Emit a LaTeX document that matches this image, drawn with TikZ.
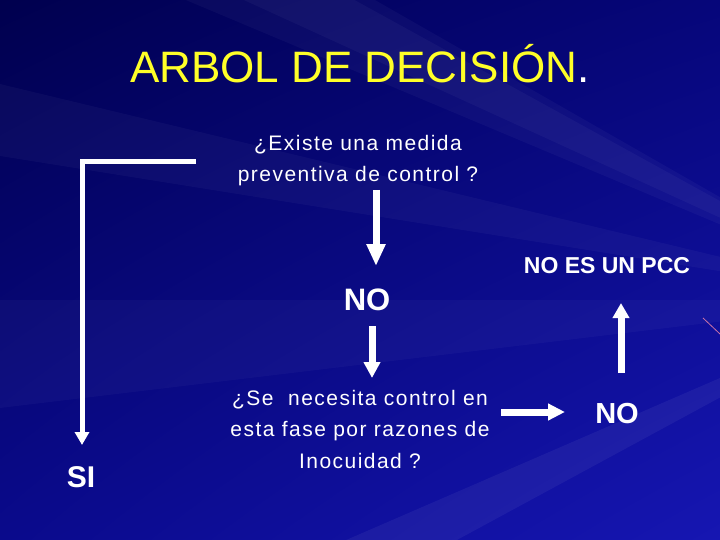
\documentclass[tikz,border=0pt]{standalone}
\usepackage{fontspec}
\setmainfont{Liberation Sans}
\usetikzlibrary{arrows.meta, positioning, shadings}

\definecolor{slideUL}{RGB}{0,0,78}
\definecolor{slideUR}{RGB}{6,6,122}
\definecolor{slideLL}{RGB}{10,10,140}
\definecolor{slideLR}{RGB}{22,22,178}
\definecolor{titleyellow}{RGB}{255,255,40}

\begin{document}
\begin{tikzpicture}[x=1pt, y=-1pt,
    question/.style={text=white, align=center, inner sep=0pt,
      font=\fontsize{21}{31.5}\selectfont\addfontfeatures{LetterSpace=7}},
    answer/.style={text=white, inner sep=0pt, anchor=base},
    flowarrow/.style={draw=white, line width=7pt,
      -{Triangle[width=16pt, length=17pt]}},
    ray/.style={fill=white, opacity=0.035},
  ]
  \useasboundingbox (0,0) rectangle (720,540);
  % slide background: dark-to-bright blue, faint rays from the right
  \begin{scope}
    \clip (0,0) rectangle (720,540);
    \shade[upper left=slideUL, upper right=slideUR, lower left=slideLL,
      lower right=slideLR] (0,0) rectangle (720,540);
    \fill[ray] (900,300) -- (-100,-250) -- (-100,-120) -- cycle;
    \fill[ray] (900,300) -- (-100,60) -- (-100,140) -- cycle;
    \fill[ray, opacity=0.03] (900,300) -- (-100,300) -- (-100,420) -- cycle;
    \fill[ray, opacity=0.05] (900,300) -- (300,560) -- (420,560) -- cycle;
    \fill[ray] (900,300) -- (200,-20) -- (340,-20) -- cycle;
    \draw[violet!40!pink, line width=0.8pt] (703,318) -- (720,334);
  \end{scope}

  % title
  \node[anchor=base, inner sep=0pt, text=titleyellow,
    font=\fontsize{44}{48}\selectfont] (title) at (360,83)
    {ARBOL DE DECISIÓN\textcolor{white}{.}};

  % questions and answers (base anchor sits under the last line)
  \node[question, anchor=base] (q1) at (358,182)
    {¿Existe una medida\\preventiva de control ?};
  \node[answer, font=\bfseries\fontsize{31}{34}\selectfont] (no1) at (367,310) {NO};
  \node[question, anchor=base] (q2) at (360,468)
    {¿Se \ necesita control en\\esta fase por razones de\\Inocuidad ?};
  \node[answer, font=\bfseries\fontsize{23}{26}\selectfont] (pcc) at (607,273) {NO ES UN PCC};
  \node[answer, font=\bfseries\fontsize{29}{32}\selectfont] (no2) at (617,423) {NO};
  \node[answer, font=\bfseries\fontsize{30}{32}\selectfont] (si) at (81,487) {SI};

  % arrow end points
  \coordinate (siStart) at (196,162);
  \coordinate (siElbow) at (82,162);
  \coordinate (siEnd) at (82,445);
  \coordinate (aStart) at (376,190);
  \coordinate (aEnd) at (376,266);
  \coordinate (bStart) at (372,326);
  \coordinate (bEnd) at (372,378);
  \coordinate (cStart) at (501,412);
  \coordinate (cEnd) at (565,412);
  \coordinate (dStart) at (621,373);
  \coordinate (dEnd) at (621,303);

  \draw[draw=white, line width=5pt, -{Triangle[width=14pt, length=13pt]}]
    (siStart) -- (siElbow) -- (siEnd);
  \draw[flowarrow, -{Triangle[width=18pt, length=22pt]}] (aStart) -- (aEnd);
  \draw[flowarrow, -{Triangle[width=16pt, length=16pt]}] (bStart) -- (bEnd);
  \draw[flowarrow] (cStart) -- (cEnd);
  \draw[flowarrow, -{Triangle[width=16pt, length=15pt]}] (dStart) -- (dEnd);
\end{tikzpicture}
\end{document}
